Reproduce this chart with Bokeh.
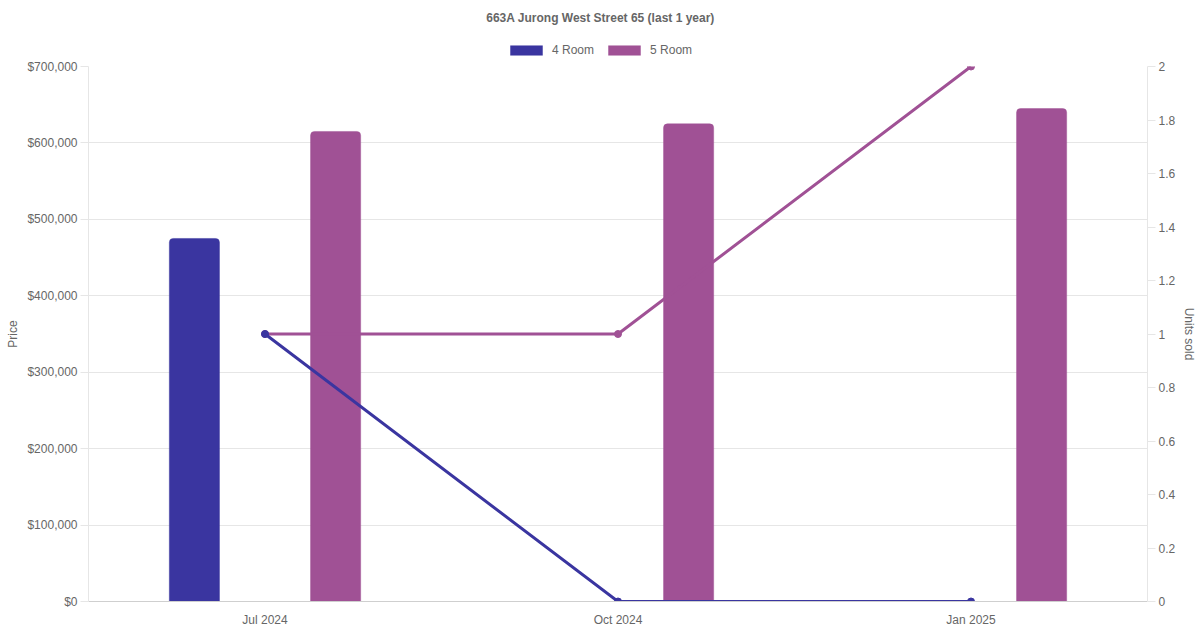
from bokeh.plotting import figure
from bokeh.layouts import column
from bokeh.models import (ColumnDataSource, LinearAxis, Range1d, FactorRange, Legend, LegendItem, Label,
                          SingleIntervalTicker, FixedTicker, NumeralTickFormatter, CustomJSTickFormatter)
from bokeh.transform import dodge
from bokeh.embed import file_html
from bokeh.resources import INLINE

months = ["Jul 2024", "Oct 2024", "Jan 2025"]
price_4room = [475000, float("nan"), float("nan")]
price_5room = [615000, 625000, 645000]
units_4room = [1, 0, 0]
units_5room = [1, 1, 2]

c4 = "#3a35a0"
c5 = "#a05195"
txt = "#666666"
grid = "#e6e6e6"
font = "Liberation Sans"

source = ColumnDataSource(data=dict(
    month=months,
    p4=price_4room,
    p5=price_5room,
    u4=units_4room,
    u5=units_5room,
))

# header: title + legend (kept outside the plot frame so nothing gets clipped)
# note: column() lines the header frame up with the chart frame (left edge at 88px)
head = figure(width=1200, height=58, x_range=Range1d(0, 1200), y_range=Range1d(0, 58),
              output_backend="svg", toolbar_location=None,
              min_border=0, min_border_left=0, min_border_right=0, min_border_top=0, min_border_bottom=0)
head.axis.visible = False
head.grid.grid_line_color = None
head.outline_line_color = None
head.add_layout(Label(x=512, y=41, x_units="screen", y_units="screen",
                      text="663A Jurong West Street 65 (last 1 year)", text_align="center",
                      text_baseline="middle", text_font=font, text_font_size="12px",
                      text_font_style="bold", text_color=txt))
# zero-size stand-ins, only used for the legend swatches
dummy = ColumnDataSource(data=dict(x=[-100], top=[0]))
h4 = head.vbar(x="x", top="top", width=0, source=dummy, fill_color=c4, line_color=c4, line_alpha=0.45)
h5 = head.vbar(x="x", top="top", width=0, source=dummy, fill_color=c5, line_color=c5, line_alpha=0.45)
legend = Legend(items=[LegendItem(label="4 Room", renderers=[h4]),
                       LegendItem(label="5 Room", renderers=[h5])],
                orientation="horizontal", location=(418, 1),
                glyph_width=40, glyph_height=12, label_standoff=6, spacing=10,
                padding=0, margin=0, border_line_color=None, background_fill_alpha=0,
                label_text_font=font, label_text_font_size="12px", label_text_color=txt)
head.add_layout(legend, "center")

p = figure(x_range=FactorRange(*months), y_range=Range1d(0, 700000),
           width=1200, height=572, output_backend="svg", toolbar_location=None,
           min_border_left=88, min_border_right=53, min_border_top=8, min_border_bottom=29)
p.outline_line_color = None
p.background_fill_color = "white"

p.extra_y_ranges = {"units": Range1d(0, 2)}

# price bars
bar_w = 0.142
b4 = p.vbar(x=dodge("month", -0.2, range=p.x_range), top="p4", width=bar_w, source=source,
            fill_color=c4, line_color=c4, line_alpha=0.45, border_radius=(4, 4, 0, 0))
b5 = p.vbar(x=dodge("month", 0.2, range=p.x_range), top="p5", width=bar_w, source=source,
            fill_color=c5, line_color=c5, line_alpha=0.45, border_radius=(4, 4, 0, 0))

# units sold lines
p.line("month", "u5", source=source, color=c5, line_width=3, y_range_name="units")
p.scatter("month", "u5", source=source, color=c5, size=7, y_range_name="units")
p.line("month", "u4", source=source, color=c4, line_width=3, y_range_name="units")
p.scatter("month", "u4", source=source, color=c4, size=7, y_range_name="units")

# axes
p.xgrid.grid_line_color = None
p.ygrid.grid_line_color = grid
p.ygrid.ticker = SingleIntervalTicker(interval=100000)

xa = p.xaxis[0]
xa.axis_line_color = "#cfcfcf"
xa.major_tick_line_color = None
xa.major_tick_out = 0
xa.minor_tick_line_color = None
xa.major_label_standoff = 11
xa.major_label_text_font = font
xa.major_label_text_font_size = "12px"
xa.major_label_text_color = txt

ya = p.yaxis[0]
ya.ticker = SingleIntervalTicker(interval=100000)
ya.formatter = NumeralTickFormatter(format="$0,0")
ya.axis_label = "Price"

ra = LinearAxis(y_range_name="units", axis_label="Units sold",
                ticker=FixedTicker(ticks=[0, 0.2, 0.4, 0.6, 0.8, 1, 1.2, 1.4, 1.6, 1.8, 2]),
                formatter=CustomJSTickFormatter(code="return String(Math.round(tick * 10) / 10)"))
p.add_layout(ra, "right")

for ax in (ya, ra):
    ax.axis_line_color = grid
    ax.major_tick_line_color = grid
    ax.major_tick_out = 8
    ax.major_tick_in = 0
    ax.minor_tick_line_color = None
    ax.major_label_standoff = 3
    ax.major_label_text_font = font
    ax.major_label_text_font_size = "12px"
    ax.major_label_text_color = txt
    ax.axis_label_text_font = font
    ax.axis_label_text_font_size = "12px"
    ax.axis_label_text_font_style = "normal"
    ax.axis_label_text_color = txt
    ax.axis_label_standoff = 4

layout = column(head, p, spacing=0)
open("out.html", "w").write(file_html(layout, INLINE))
